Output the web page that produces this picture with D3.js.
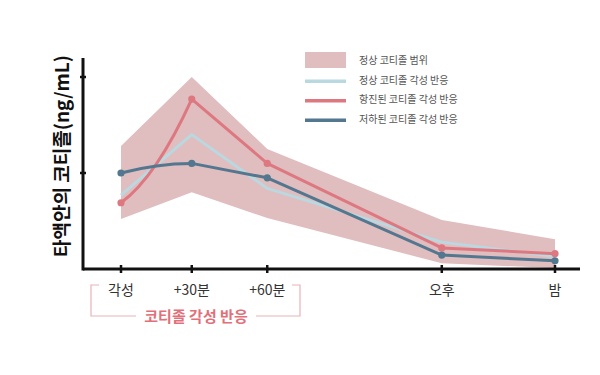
<!DOCTYPE html>
<html>
<head>
<meta charset="utf-8">
<script src="https://cdn.jsdelivr.net/npm/d3@7"></script>
<style>
  body { margin: 0; background: #fff; }
  svg { display: block; font-family: "Noto Sans CJK KR", "Noto Sans", sans-serif; }
</style>
</head>
<body>
<div id="chart"></div>
<script>
// ---- Data ----
const times = ["각성", "+30분", "+60분", "오후", "밤"];
const timePos = [0, 30, 62, 136, 184];          // relative spacing of the time points
const bandUpper = [12.8, 20.0, 12.5, 5.1, 3.1];
const bandLower = [5.2, 8.0, 5.3, 0.6, 0.1];
const normalResp = [7.7, 14.0, 8.4, 2.8, 1.3];
const hyperResp = [6.9, 17.7, 11.0, 2.2, 1.6];
const hypoResp = [10.0, 11.0, 9.5, 1.45, 0.85];
const yTicks = [10, 20];
const legendLabels = ["정상 코티졸 범위", "정상 코티졸 각성 반응", "항진된 코티졸 각성 반응", "저하된 코티졸 각성 반응"];

const W = 600, H = 375;
const bandColor = "#e0bdbf", normalColor = "#b9d8e0", hyperColor = "#de7880", hypoColor = "#52778f";

const svg = d3.select("#chart").append("svg").attr("width", W).attr("height", H);

// ---- Scales ----
const x = d3.scaleLinear().domain([0, 184]).range([121, 555]);
const y = d3.scaleLinear().domain([0, 20]).range([269, 77]);

// ---- Band ----
const area = d3.area()
  .x((d, i) => x(timePos[i]))
  .y0((d, i) => y(bandLower[i]))
  .y1(d => y(d));
svg.append("path").attr("d", area(bandUpper)).attr("fill", bandColor);

// ---- Lines ----
const lineLin = d3.line().x((d, i) => x(timePos[i])).y(d => y(d));

// first segment bends (quadratic), the rest is straight
function bentLine(vals, k) {
  const pts = vals.map((v, i) => [x(timePos[i]), y(v)]);
  const p = d3.path();
  p.moveTo(pts[0][0], pts[0][1]);
  const cx = (pts[0][0] + pts[1][0]) / 2;
  const cy = pts[0][1] + k * (pts[1][1] - pts[0][1]);
  p.quadraticCurveTo(cx, cy, pts[1][0], pts[1][1]);
  pts.slice(2).forEach(q => p.lineTo(q[0], q[1]));
  return p.toString();
}

svg.append("path").attr("d", lineLin(normalResp)).attr("fill", "none")
  .attr("stroke", normalColor).attr("stroke-width", 3).attr("stroke-linejoin", "round");

[[hyperResp, hyperColor, 0.25], [hypoResp, hypoColor, 1]].forEach(([vals, col, k]) => {
  svg.append("path").attr("d", bentLine(vals, k)).attr("fill", "none")
    .attr("stroke", col).attr("stroke-width", 3).attr("stroke-linejoin", "round");
  svg.append("g").selectAll("circle").data(vals).join("circle")
    .attr("cx", (d, i) => x(timePos[i])).attr("cy", d => y(d))
    .attr("r", 3.6).attr("fill", col);
});

// ---- Axes ----
const axisX0 = 83, axisY0 = 269;
svg.append("line").attr("x1", axisX0).attr("x2", axisX0).attr("y1", 58).attr("y2", axisY0 + 1.5)
  .attr("stroke", "#111").attr("stroke-width", 3);
svg.append("line").attr("x1", axisX0).attr("x2", 580).attr("y1", axisY0).attr("y2", axisY0)
  .attr("stroke", "#111").attr("stroke-width", 3);

svg.append("g").selectAll("line").data(yTicks).join("line")
  .attr("x1", axisX0 - 3).attr("x2", axisX0 + 3)
  .attr("y1", d => y(d)).attr("y2", d => y(d))
  .attr("stroke", "#111").attr("stroke-width", 2.5);

svg.append("g").selectAll("line").data(timePos).join("line")
  .attr("x1", d => x(d)).attr("x2", d => x(d))
  .attr("y1", axisY0 - 4).attr("y2", axisY0 + 4)
  .attr("stroke", "#111").attr("stroke-width", 2.5);

svg.append("g").selectAll("text").data(times).join("text")
  .attr("x", (d, i) => x(timePos[i])).attr("y", 295)
  .attr("text-anchor", "middle").attr("font-size", 14).attr("fill", "#333")
  .text(d => d);

// y label
svg.append("text")
  .attr("transform", "translate(69,156) rotate(-90)")
  .attr("text-anchor", "middle").attr("font-size", 19).attr("font-weight", 700)
  .attr("fill", "#111")
  .text("타액안의 코티졸(ng/mL)");

// ---- Bracket ----
const bx0 = 91, bx1 = 300, bTop = 285, bBot = 316, bText = 196;
const bracketCol = "#e8b3b8";
svg.append("path")
  .attr("d", `M${bx0 + 8},${bTop} H${bx0} V${bBot} H${bText - 60}`)
  .attr("fill", "none").attr("stroke", bracketCol).attr("stroke-width", 1.2);
svg.append("path")
  .attr("d", `M${bx1 - 8},${bTop} H${bx1} V${bBot} H${bText + 60}`)
  .attr("fill", "none").attr("stroke", bracketCol).attr("stroke-width", 1.2);
svg.append("text").attr("x", bText).attr("y", bBot + 6)
  .attr("text-anchor", "middle").attr("font-size", 15).attr("font-weight", 700)
  .attr("fill", "#e0707a").text("코티졸 각성 반응");

// ---- Legend ----
const lg = svg.append("g").attr("transform", "translate(305,52)");
lg.append("rect").attr("x", 0).attr("y", 0).attr("width", 41).attr("height", 16).attr("fill", bandColor);
[normalColor, hyperColor, hypoColor].forEach((c, i) => {
  lg.append("rect").attr("x", 0).attr("y", 27.5 + i * 19.5).attr("width", 41).attr("height", 3.5).attr("fill", c);
});
lg.selectAll("text").data(legendLabels).join("text")
  .attr("x", 54).attr("y", (d, i) => 12 + i * 19.5)
  .attr("font-size", 10).attr("fill", "#555")
  .text(d => d);
</script>
</body>
</html>
